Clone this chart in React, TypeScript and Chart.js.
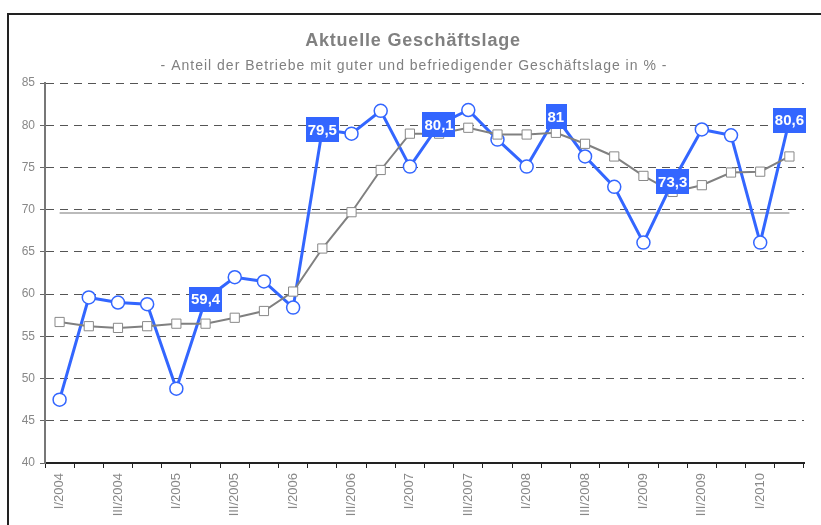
import React, { useEffect, useRef } from "react";
import { Chart, registerables } from "chart.js";

Chart.register(...registerables);

const categories = [
  "I/2004", "II/2004", "III/2004", "IV/2004",
  "I/2005", "II/2005", "III/2005", "IV/2005",
  "I/2006", "II/2006", "III/2006", "IV/2006",
  "I/2007", "II/2007", "III/2007", "IV/2007",
  "I/2008", "II/2008", "III/2008", "IV/2008",
  "I/2009", "II/2009", "III/2009", "IV/2009",
  "I/2010", "II/2010",
];

const quarterValues = [
  47.5, 59.6, 59.0, 58.8,
  48.8, 59.4, 62.0, 61.5,
  58.4, 79.5, 79.0, 81.7,
  75.1, 80.1, 81.8, 78.3,
  75.1, 81.0, 76.3, 72.7,
  66.1, 73.3, 79.5, 78.8,
  66.1, 80.6,
];

const trendValues = [
  56.7, 56.2, 56.0, 56.2,
  56.5, 56.5, 57.2, 58.0,
  60.3, 65.4, 69.7, 74.7,
  79.0, 79.0, 79.7, 78.9,
  78.9, 79.1, 77.8, 76.3,
  74.0, 72.1, 72.9, 74.4,
  74.5, 76.3,
];

const averageLevel = 69.6;

const labeledIndexes = [5, 9, 13, 17, 21, 25];

const yTicks = { min: 40, max: 85, step: 5 };

const TITLE = "Aktuelle Geschäftslage";
const SUBTITLE = "- Anteil der Betriebe mit guter und befriedigender Geschäftslage in % -";

const BLUE = "#3366FF";
const FONT = "'Liberation Sans', Arial, sans-serif";

const decorPlugin = {
  id: "decor",
  beforeDraw(chart: any) {
    const ctx = chart.ctx;
    ctx.save();
    ctx.strokeStyle = "#222";
    ctx.lineWidth = 2;
    ctx.strokeRect(8, 14, 1000, 700);
    ctx.fillStyle = "#808080";
    ctx.textAlign = "center";
    ctx.textBaseline = "alphabetic";
    (ctx as any).letterSpacing = "0.8px";
    ctx.font = `bold 18px ${FONT}`;
    ctx.fillText(TITLE, 413, 46);
    (ctx as any).letterSpacing = "1px";
    ctx.font = `14px ${FONT}`;
    ctx.fillText(SUBTITLE, 414, 70);
    (ctx as any).letterSpacing = "0px";
    ctx.restore();
  },
  afterDatasetsDraw(chart: any) {
    const ctx = chart.ctx;
    const meta = chart.getDatasetMeta(0);
    ctx.save();
    ctx.font = `bold 15px ${FONT}`;
    ctx.textAlign = "center";
    ctx.textBaseline = "middle";
    labeledIndexes.forEach((i) => {
      const pt = meta.data[i];
      if (!pt) return;
      const text = String(quarterValues[i]).replace(".", ",");
      const w = ctx.measureText(text).width + 4;
      const h = 25;
      ctx.fillStyle = BLUE;
      ctx.fillRect(Math.round(pt.x - w / 2), Math.round(pt.y - h / 2), Math.round(w), h);
      ctx.fillStyle = "#fff";
      ctx.fillText(text, pt.x, pt.y + 1);
    });
    ctx.restore();
  },
};

export default function App() {
  const ref = useRef<HTMLCanvasElement>(null);

  useEffect(() => {
    if (!ref.current) return;
    const chart = new Chart(ref.current, {
      type: "line",
      data: {
        labels: categories,
        datasets: [
          {
            data: quarterValues,
            borderColor: BLUE,
            borderWidth: 3,
            pointRadius: 6.5,
            pointBorderWidth: 1.5,
            pointBorderColor: BLUE,
            pointBackgroundColor: "#fff",
            pointStyle: "circle",
            tension: 0,
            order: 2,
          },
          {
            data: trendValues,
            borderColor: "#808080",
            borderWidth: 2,
            pointRadius: 6.5,
            pointBorderWidth: 1,
            pointBorderColor: "#888",
            pointBackgroundColor: "#fff",
            pointStyle: "rect",
            tension: 0,
            order: 1,
          },
          {
            data: categories.map(() => averageLevel),
            borderColor: "#bbb",
            borderWidth: 2,
            pointRadius: 0,
            tension: 0,
            order: 3,
          },
        ],
      },
      options: {
        responsive: false,
        animation: false,
        events: [],
        layout: { padding: { top: 83, right: 17, left: 0, bottom: 0 } },
        plugins: {
          legend: { display: false },
          tooltip: { enabled: false },
          title: { display: false },
        },
        scales: {
          x: {
            offset: true,
            afterFit: (s: any) => {
              s.height = 62;
            },
            grid: {
              offset: true,
              drawOnChartArea: false,
              drawTicks: true,
              tickLength: 5,
              tickColor: "#222",
              tickWidth: 1,
            },
            border: { display: true, color: "#222", width: 2 },
            ticks: {
              autoSkip: false,
              minRotation: 90,
              maxRotation: 90,
              padding: 5,
              color: "#888",
              font: { family: FONT, size: 13 },
              callback: (_v: any, i: number) => (i % 2 === 0 ? categories[i] : ""),
            },
          },
          y: {
            min: yTicks.min,
            max: yTicks.max,
            afterFit: (s: any) => {
              s.width = 45;
            },
            grid: {
              color: (c: any) => (c.tick && c.tick.value === yTicks.min ? "rgba(0,0,0,0)" : "#555"),
              lineWidth: 1,
              drawTicks: true,
              tickLength: 5,
              tickColor: "#666",
              tickBorderDash: [],
              tickWidth: 1,
            },
            border: { display: true, color: "#777", width: 2, dash: [8, 6] },
            ticks: {
              stepSize: yTicks.step,
              padding: 5,
              color: "#888",
              font: { family: FONT, size: 12 },
            },
          },
        },
      },
      plugins: [decorPlugin],
    } as any);
    return () => chart.destroy();
  }, []);

  return (
    <div style={{ position: "fixed", left: 0, top: 0, width: 821, height: 525, background: "#fff" }}>
      <canvas ref={ref} width={821} height={525} style={{ display: "block" }} />
    </div>
  );
}
